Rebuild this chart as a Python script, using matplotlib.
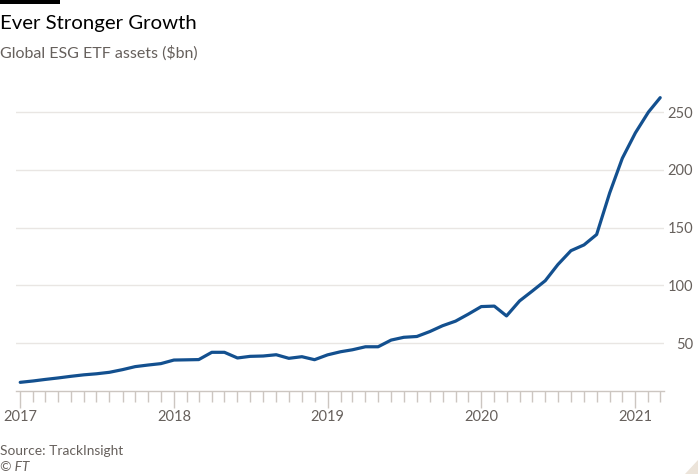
#!/usr/bin/env python3
"""
FT-style line chart: global ESG ETF assets ($bn), monthly, 2017 - early 2021.
Output: out.png
"""
import pandas as pd
import matplotlib.pyplot as plt
import matplotlib.dates as mdates
from matplotlib.patches import Rectangle, Polygon

# monthly values (Jan 2017 .. Mar 2021)
start_month = '2017-01-01'
assets_bn = [
    16.0, 17.2, 18.5, 19.8, 21.2, 22.5, 23.4, 24.7, 27.0, 29.6, 31.0, 32.2,
    35.3, 35.5, 35.7, 42.0, 42.0, 37.1, 38.5, 38.8, 39.9, 36.8, 38.2, 35.6,
    39.8, 42.5, 44.2, 46.8, 46.8, 52.6, 55.0, 55.7, 60.0, 65.0, 69.0, 75.0,
    81.6, 82.0, 73.5, 86.5, 95.0, 104.0, 118.0, 130.0, 135.0, 144.0, 180.0, 210.0,
    232.0, 250.0, 262.5,
]
y_ticks = [50, 100, 150, 200, 250]

TITLE = 'Ever Stronger Growth'
SUBTITLE = 'Global ESG ETF assets ($bn)'
SOURCE = 'Source: TrackInsight'

LINE = '#13508f'
GREY = '#66605c'
GRID = '#e9e6e3'
TICK = '#ccc6c1'

plt.rcParams['font.family'] = ['Lato', 'DejaVu Sans']

dates = pd.date_range(start_month, periods=len(assets_bn), freq='MS')

fig = plt.figure(figsize=(6.98, 4.74), dpi=100, facecolor='white')
ax = fig.add_axes([16 / 698, (474 - 391) / 474, (664 - 16) / 698, (391 - 89) / 474])

ax.plot(dates, assets_bn, color=LINE, linewidth=2.3, solid_joinstyle='round',
        solid_capstyle='round', zorder=3)

ax.set_xlim(pd.Timestamp('2016-12-22'), pd.Timestamp('2021-03-10'))
ax.set_ylim(8.5, 270)

# y axis on the right, labels right-aligned
ax.yaxis.tick_right()
ax.set_yticks(y_ticks)
ax.tick_params(axis='y', length=0, pad=21, labelsize=10.5, labelcolor=GREY)
for lab in ax.get_yticklabels():
    lab.set_horizontalalignment('right')
ax.grid(axis='y', color=GRID, linewidth=1)

# x axis: years major, months minor
ax.xaxis.set_major_locator(mdates.YearLocator())
ax.xaxis.set_major_formatter(mdates.DateFormatter('%Y'))
ax.xaxis.set_minor_locator(mdates.MonthLocator())
ax.tick_params(axis='x', which='major', length=12, width=1, color=TICK,
               labelsize=10.5, labelcolor=GREY, pad=2)
ax.tick_params(axis='x', which='minor', length=8, width=1, color=TICK)

for side in ['top', 'right', 'left']:
    ax.spines[side].set_visible(False)
ax.spines['bottom'].set_color(TICK)
ax.spines['bottom'].set_linewidth(1)

# header / footer
fig.patches.append(Rectangle((0, 1 - 4 / 474), 60 / 698, 4 / 474, transform=fig.transFigure,
                             facecolor='black', edgecolor='none'))
fig.text(0, 1 - 29 / 474, TITLE, fontsize=14.7, color='black', va='baseline')
fig.text(0, 1 - 58 / 474, SUBTITLE, fontsize=11.5, color=GREY, va='baseline')
fig.text(0, 1 - 455 / 474, SOURCE, fontsize=9.9, color=GREY, va='baseline')
fig.text(0, 1 - 471 / 474, '\u00a9 FT', fontsize=9.9, color=GREY, style='italic', va='baseline')

# little page-corner mark bottom right
fig.patches.append(Polygon([(1, 0), (1, 14 / 474), (1 - 13 / 698, 0)], closed=True,
                           transform=fig.transFigure, facecolor='#ece4da', edgecolor='none'))

fig.savefig('out.png', dpi=100, facecolor='white')
